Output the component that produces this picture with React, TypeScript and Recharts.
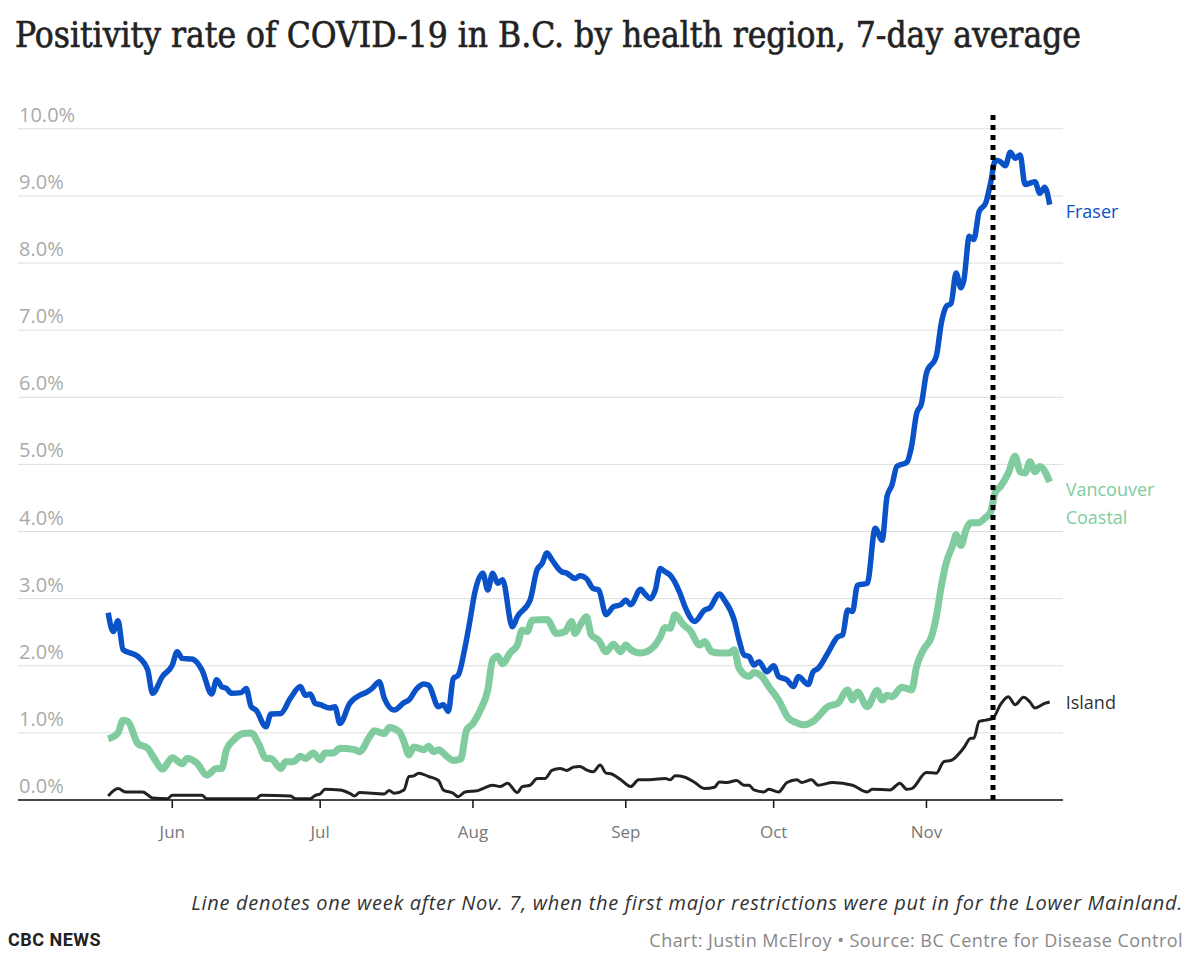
import React from "react"
import {
   CartesianGrid,
   Line,
   LineChart,
   ReferenceLine,
   XAxis,
   YAxis,
} from "recharts"

// day 0 = May 19; values are 7-day average positivity in %
const fraser: [number, number][] = [
   [0, 2.79], [1, 2.51], [2, 2.67], [3, 2.24], [6, 2.14], [8, 1.94], [9, 1.59], [11, 1.84],
   [13, 2.01], [14, 2.21], [15, 2.11], [17, 2.1], [19, 1.94], [21, 1.58], [22, 1.79], [23, 1.69],
   [24, 1.66], [25, 1.59], [27, 1.6], [28, 1.66], [29, 1.39], [30, 1.34], [32, 1.09], [33, 1.28],
   [35, 1.29], [37, 1.52], [39, 1.69], [40, 1.56], [41, 1.58], [42, 1.44], [43, 1.42], [45, 1.37],
   [46, 1.39], [47, 1.14], [49, 1.44], [51, 1.56], [52, 1.59], [53.5, 1.66], [55, 1.76], [56, 1.52],
   [58, 1.34], [60, 1.45], [61, 1.49], [62.6, 1.66], [64, 1.73], [65, 1.71], [67, 1.39], [68, 1.42],
   [69, 1.32], [70, 1.81], [71, 1.86], [72.4, 2.28], [73.4, 2.68], [74.4, 3.1], [76, 3.38], [77, 3.13],
   [78, 3.38], [79, 3.23], [80, 3.28], [82, 2.58], [83, 2.73], [85.6, 2.98], [87, 3.43], [88, 3.52],
   [89, 3.68], [90, 3.58], [92, 3.4], [93, 3.38], [94.7, 3.3], [95.7, 3.34], [97, 3.3], [98.4, 3.15],
   [99.5, 3.13], [101, 2.76], [102.5, 2.88], [104, 2.91], [105, 2.98], [106, 2.91], [108, 3.14],
   [109, 3.06], [110, 3.0], [111, 3.13], [112, 3.45], [113, 3.4], [114, 3.35], [116, 3.08], [117, 2.88],
   [119, 2.66], [121, 2.83], [122, 2.86], [124, 3.07], [125, 2.98], [127, 2.68], [128, 2.38], [129, 2.16],
   [130, 2.14], [131, 2.01], [132, 2.06], [133.6, 1.91], [135, 2.0], [136, 1.84], [137.7, 1.79],
   [139, 1.69], [140, 1.84], [142, 1.72], [143, 1.91], [144, 1.96], [146, 2.19], [148, 2.43], [149, 2.46],
   [150, 2.83], [151, 2.81], [152, 3.2], [154, 3.23], [155.6, 4.05], [157, 3.87], [158, 4.52], [159, 4.69],
   [160, 4.97], [162, 5.03], [163, 5.28], [164, 5.76], [165, 5.91], [166, 6.36], [168, 6.61], [169, 7.1],
   [170, 7.35], [171, 7.4], [172, 7.85], [173, 7.63], [173.6, 7.75], [174.7, 8.4], [175.6, 8.35],
   [176.7, 8.77], [178, 8.89], [179, 9.19], [180, 9.53], [181, 9.51], [182, 9.45], [183, 9.65],
   [184, 9.56], [185, 9.61], [186, 9.17], [188, 9.21], [189, 9.04], [190, 9.13], [191, 8.87],
]

const vancouverCoastal: [number, number][] = [
   [0, 0.91], [2, 1.0], [3, 1.19], [4, 1.17], [6, 0.84], [8, 0.77], [9.5, 0.6], [11, 0.46], [13, 0.63],
   [15, 0.54], [16, 0.62], [18, 0.55], [20, 0.37], [22, 0.47], [23, 0.47], [24, 0.75], [25.4, 0.89],
   [27.4, 0.99], [29, 1.0], [30.5, 0.84], [32, 0.62], [33, 0.62], [35, 0.47], [36, 0.57], [37.6, 0.57],
   [39, 0.65], [40, 0.62], [41.6, 0.7], [43, 0.6], [44, 0.7], [45.7, 0.7], [47, 0.77], [50, 0.75],
   [51, 0.72], [53, 0.94], [54, 1.03], [56, 0.99], [57, 1.08], [59, 1.02], [60, 0.87], [61, 0.67],
   [62, 0.79], [64, 0.75], [65, 0.8], [66, 0.72], [67, 0.75], [68.7, 0.65], [70, 0.59], [71.5, 0.61],
   [72.7, 1.04], [74, 1.14], [75.5, 1.34], [77, 1.64], [78, 2.09], [79, 2.14], [80, 2.03], [81.5, 2.19],
   [83, 2.31], [84, 2.53], [85, 2.51], [86, 2.68], [89, 2.69], [91, 2.48], [92.7, 2.51], [94, 2.66],
   [94.7, 2.48], [95.7, 2.6], [97, 2.73], [98, 2.46], [99.5, 2.38], [101, 2.21], [102.5, 2.32],
   [104, 2.21], [105, 2.31], [106, 2.24], [108, 2.19], [110.6, 2.28], [112, 2.43], [113, 2.57],
   [114, 2.56], [115, 2.76], [116.7, 2.61], [118, 2.53], [120, 2.31], [121, 2.36], [122.4, 2.21],
   [124, 2.19], [126, 2.19], [127, 2.24], [128, 1.96], [130, 1.84], [131, 1.9], [132.6, 1.84],
   [134, 1.69], [136, 1.49], [138, 1.22], [139.7, 1.15], [141, 1.12], [143, 1.17], [144, 1.24],
   [146, 1.39], [148, 1.44], [150, 1.64], [151, 1.49], [152, 1.61], [154, 1.39], [156, 1.63],
   [157, 1.49], [158, 1.56], [159, 1.54], [161, 1.68], [163, 1.64], [164, 1.99], [165.4, 2.24],
   [167, 2.43], [168, 2.73], [169, 3.18], [170, 3.53], [171.5, 3.83], [172, 3.95], [173, 3.79],
   [174, 4.02], [175, 4.13], [176.5, 4.13], [178, 4.21], [179, 4.29], [180, 4.59], [181, 4.67],
   [182.6, 4.87], [184, 5.12], [185, 4.89], [186, 4.87], [187, 5.04], [188, 4.89], [189, 4.97],
   [191, 4.74],
]

const island: [number, number][] = [
   [0, 0.06], [2, 0.17], [3.5, 0.12], [7, 0.12], [9, 0.03], [12, 0.02], [13, 0.07], [19, 0.07],
   [20, 0.02], [30, 0.02], [31, 0.07], [37, 0.06], [38, 0.02], [41, 0.02], [42, 0.07], [43, 0.09],
   [44, 0.16], [47, 0.15], [49, 0.1], [50, 0.06], [51, 0.11], [56, 0.09], [57, 0.14], [58, 0.1],
   [60, 0.15], [61, 0.35], [62, 0.36], [63, 0.4], [65, 0.35], [67, 0.29], [68, 0.15], [70, 0.1],
   [71, 0.05], [72.4, 0.12], [75, 0.14], [76, 0.17], [78, 0.22], [79.5, 0.2], [81, 0.25], [83, 0.11],
   [84, 0.2], [85.6, 0.22], [87, 0.32], [88.6, 0.32], [90, 0.44], [91.7, 0.47], [93, 0.44],
   [94.4, 0.49], [95.7, 0.5], [97, 0.45], [98.4, 0.42], [99.8, 0.52], [101, 0.4], [102, 0.39],
   [104, 0.3], [106, 0.2], [107.6, 0.3], [109, 0.3], [113, 0.32], [114, 0.3], [115, 0.36], [117, 0.34],
   [119, 0.26], [121, 0.17], [123, 0.19], [124, 0.27], [125.5, 0.26], [127.5, 0.29], [129, 0.22],
   [130, 0.22], [131, 0.15], [133, 0.12], [134, 0.16], [136, 0.12], [137.7, 0.26], [139.7, 0.3],
   [140.7, 0.26], [142.7, 0.3], [144, 0.22], [147, 0.26], [151, 0.22], [154, 0.12], [155, 0.16],
   [158.6, 0.15], [160.6, 0.25], [162, 0.16], [163, 0.17], [166, 0.41], [168, 0.4], [169.5, 0.57],
   [171, 0.59], [173.5, 0.77], [175, 0.92], [175.6, 0.92], [176.7, 1.17], [178, 1.19], [179.5, 1.22],
   [181, 1.42], [182.6, 1.54], [184, 1.42], [185.7, 1.53], [187, 1.46], [188, 1.37], [190, 1.44],
   [191, 1.46],
]

const monthTicks = [13, 43, 74, 105, 135, 166]
const monthLabels = ["Jun", "Jul", "Aug", "Sep", "Oct", "Nov"]
const yTicks = [0, 1, 2, 3, 4, 5, 6, 7, 8, 9, 10]
const restrictionDay = 179.5 // Nov. 14

const toRows = (pts: [number, number][]) => pts.map(([day, v]) => ({ day, v }))

const font = "'Open Sans', 'Noto Sans', sans-serif"

const YTick = (props: any) => {
   const { y, payload } = props
   return (
      <text x={19} y={y - 7} fill="#aaa" fontSize={20} fontFamily={font} textAnchor="start">
         {Number(payload.value).toFixed(1)}%
      </text>
   )
}

const endLabel = (lines: string[], color: string, count: number, dy: number) => (props: any) => {
   if (props.index !== count - 1) return null
   return (
      <text x={props.x + 16} y={props.y + dy} fill={color} fontSize={18} fontFamily={font}>
         {lines.map((l, i) => (
            <tspan key={l} x={props.x + 16} dy={i === 0 ? 0 : 28}>
               {l}
            </tspan>
         ))}
      </text>
   )
}

export default function App() {
   const fraserRows = toRows(fraser)
   const vcRows = toRows(vancouverCoastal)
   const islandRows = toRows(island)

   return (
      <div
         style={{
            position: "absolute",
            left: 0,
            top: 0,
            width: 1200,
            height: 977,
            background: "#fff",
            fontFamily: font,
         }}
      >
         <div
            style={{
               position: "absolute",
               left: 15,
               top: 15,
               fontFamily: "'DejaVu Serif Condensed', 'DejaVu Serif', serif",
               fontSize: 35,
               color: "#222",
               whiteSpace: "nowrap",
               WebkitTextStroke: "0.6px #222",
            }}
         >
            Positivity rate of COVID-19 in B.C. by health region, 7-day average
         </div>

         <div style={{ position: "absolute", left: 0, top: 0 }}>
            <LineChart
               width={1200}
               height={860}
               margin={{ top: 112, right: 137, bottom: 0, left: 17 }}
            >
               <CartesianGrid
                  vertical={false}
                  horizontalValues={yTicks}
                  stroke="#ddd"
                  strokeWidth={1}
               />
               <XAxis
                  type="number"
                  dataKey="day"
                  domain={[-18.3, 193.7]}
                  allowDataOverflow
                  ticks={monthTicks}
                  tickFormatter={(d: number) => monthLabels[monthTicks.indexOf(d)]}
                  height={60}
                  stroke="#111"
                  strokeWidth={1.5}
                  tickSize={8}
                  tickMargin={18}
                  tick={{ fill: "#777", fontSize: 17, fontFamily: font }}
               />
               <YAxis
                  type="number"
                  domain={[0, 10.25]}
                  ticks={yTicks}
                  width={1}
                  axisLine={false}
                  tickLine={false}
                  tick={<YTick />}
                  allowDataOverflow
               />
               <Line
                  data={islandRows}
                  dataKey="v"
                  type="monotone"
                  stroke="#222"
                  strokeWidth={3}
                  dot={false}
                  isAnimationActive={false}
                  label={endLabel(["Island"], "#333", islandRows.length, 7)}
               />
               <Line
                  data={vcRows}
                  dataKey="v"
                  type="monotone"
                  stroke="#80cc9f"
                  strokeWidth={7}
                  dot={false}
                  isAnimationActive={false}
                  label={endLabel(["Vancouver", "Coastal"], "#80cc9f", vcRows.length, 14)}
               />
               <Line
                  data={fraserRows}
                  dataKey="v"
                  type="monotone"
                  stroke="#0a52c8"
                  strokeWidth={5.5}
                  dot={false}
                  isAnimationActive={false}
                  label={endLabel(["Fraser"], "#0a52c8", fraserRows.length, 13)}
               />
               <ReferenceLine
                  x={restrictionDay}
                  stroke="#000"
                  strokeWidth={5}
                  strokeDasharray="5 5"
               />
            </LineChart>
         </div>

         <div
            style={{
               position: "absolute",
               right: 17,
               top: 889,
               fontSize: 20,
               letterSpacing: 0.7,
               fontStyle: "italic",
               color: "#333",
               whiteSpace: "nowrap",
            }}
         >
            Line denotes one week after Nov. 7, when the first major restrictions were put in for the Lower Mainland.
         </div>
         <div
            style={{
               position: "absolute",
               left: 8,
               top: 929,
               fontSize: 18,
               fontWeight: 700,
               letterSpacing: 0.5,
               color: "#222",
               fontFamily: "'Liberation Sans Narrow', 'Roboto', sans-serif",
               whiteSpace: "nowrap",
            }}
         >
            CBC NEWS
         </div>
         <div
            style={{
               position: "absolute",
               right: 17,
               top: 928,
               fontSize: 18,
               letterSpacing: 0.45,
               color: "#888",
               whiteSpace: "nowrap",
            }}
         >
            Chart: Justin McElroy • Source: BC Centre for Disease Control
         </div>
      </div>
   )
}
